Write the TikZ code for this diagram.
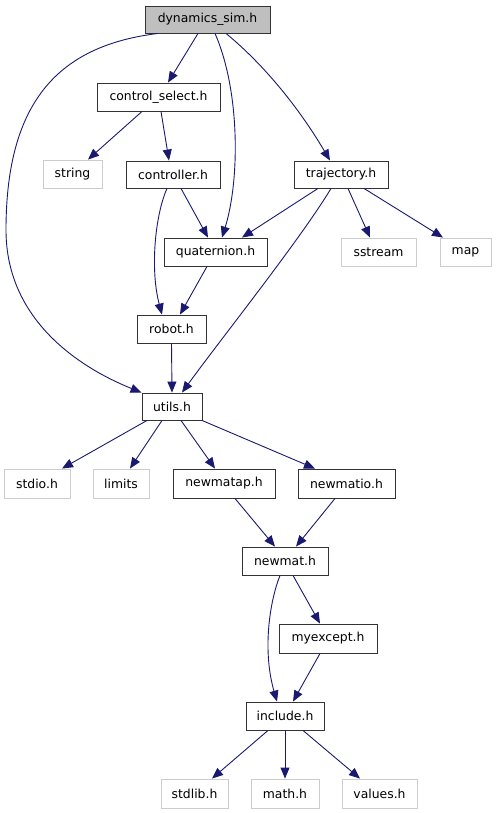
\documentclass[tikz,border=0pt]{standalone}
\usepackage{fontspec}
\setmainfont{DejaVu Sans}
\usetikzlibrary{arrows.meta}
\definecolor{edgec}{HTML}{191970}
\definecolor{lgray}{HTML}{CCCCCC}
\definecolor{topfill}{HTML}{BFBFBF}
\begin{document}
\begin{tikzpicture}[x=1pt,y=-1pt,
  box/.style={draw=black!80, line width=0.9pt, inner sep=0pt, fill=white,
    font=\fontsize{12.4}{14}\selectfont, text=black, minimum height=28pt},
  ext/.style={box, draw=lgray},
  edge/.style={draw=edgec, line width=0.9pt, -{Triangle[length=11pt,width=9pt]}}]
\useasboundingbox (0,0) rectangle (496,813);
% nodes
\node[box, fill=topfill, minimum width=125pt, minimum height=27pt] (top) at (207.5,19.5) {dynamics\_sim.h};
\node[box, minimum width=123pt] (cs) at (158.5,97) {control\_select.h};
\node[ext, minimum width=59pt] (str) at (72.5,174) {string};
\node[box, minimum width=94pt, minimum height=27pt] (ctl) at (173,174.5) {controller.h};
\node[box, minimum width=94pt, minimum height=27pt] (traj) at (341,174.5) {trajectory.h};
\node[box, minimum width=103pt] (quat) at (215.5,252) {quaternion.h};
\node[ext, minimum width=75pt] (sstr) at (378.5,252) {sstream};
\node[ext, minimum width=51pt] (map) at (465.5,252) {map};
\node[box, minimum width=69pt] (robot) at (171.5,329) {robot.h};
\node[box, minimum width=60pt, minimum height=27pt] (utils) at (172,406.5) {utils.h};
\node[ext, minimum width=66pt, minimum height=29pt] (stdio) at (37,483.5) {stdio.h};
\node[ext, minimum width=56pt, minimum height=29pt] (limits) at (121,483.5) {limits};
\node[box, minimum width=102pt, minimum height=29pt] (nmap) at (224,483.5) {newmatap.h};
\node[box, minimum width=97pt, minimum height=29pt] (nmio) at (346.5,483.5) {newmatio.h};
\node[box, minimum width=86pt] (nm) at (285,561) {newmat.h};
\node[box, minimum width=98pt, minimum height=29pt] (myex) at (328,638.5) {myexcept.h};
\node[box, minimum width=78pt] (incl) at (285,716) {include.h};
\node[ext, minimum width=67pt, minimum height=29pt] (stdlib) at (194.5,793.5) {stdlib.h};
\node[ext, minimum width=68pt, minimum height=29pt] (math) at (285,793.5) {math.h};
\node[ext, minimum width=75pt, minimum height=29pt] (values) at (379.5,793.5) {values.h};
\coordinate (bendL) at (6,230);
% edges
\draw[edge] ([xshift=-9.5pt]top.south) -- ([xshift=9.5pt]cs.north);
\draw[edge] ([xshift=7.5pt]top.south) .. controls +(25,57) and +(18,-58) .. ([xshift=6.5pt]quat.north);
\draw[edge] ([xshift=18.5pt]top.south) .. controls +(39,32) and +(-30,-51) .. ([xshift=-11pt]traj.north);
\draw[edge] ([xshift=-49.5pt]top.south) .. controls +(-98,12) and +(0,-130) .. (bendL)
   .. controls +(0,90) and +(-62,-25) .. (utils.north west);
\draw[edge] ([xshift=-16.5pt]cs.south) -- ([xshift=15.5pt]str.north);
\draw[edge] ([xshift=2.5pt]cs.south) -- ([xshift=-4pt]ctl.north);
\draw[edge] ([xshift=8pt]ctl.south) -- ([xshift=-7.5pt]quat.north);
\draw[edge] ([xshift=-6pt]ctl.south) .. controls +(-12,27) and +(-12,-45) .. ([xshift=-9.5pt]robot.north);
\draw[edge] ([xshift=-23pt]traj.south) -- ([xshift=26.5pt]quat.north);
\draw[edge] ([xshift=-10pt]traj.south) .. controls +(-30,50) and +(40,-55) .. ([xshift=10pt]utils.north);
\draw[edge] ([xshift=7pt]traj.south) -- ([xshift=-8.5pt]sstr.north);
\draw[edge] ([xshift=23pt]traj.south) -- ([xshift=-22.5pt]map.north);
\draw[edge] ([xshift=-8.5pt]quat.south) -- ([xshift=8.5pt]robot.north);
\draw[edge] (robot.south) -- (utils.north);
\draw[edge] ([xshift=-25pt]utils.south) -- ([xshift=25pt]stdio.north);
\draw[edge] ([xshift=-10pt]utils.south) -- ([xshift=9pt]limits.north);
\draw[edge] ([xshift=9pt]utils.south) -- ([xshift=-9pt]nmap.north);
\draw[edge] ([xshift=30pt]utils.south) -- ([xshift=-31.5pt]nmio.north);
\draw[edge] ([xshift=11pt]nmap.south) -- ([xshift=-10pt]nm.north);
\draw[edge] ([xshift=-11.5pt]nmio.south) -- ([xshift=11pt]nm.north);
\draw[edge] ([xshift=-5pt]nm.south) .. controls +(-10,25) and +(-15,-52) .. ([xshift=-8pt]incl.north);
\draw[edge] ([xshift=8pt]nm.south) -- ([xshift=-8pt]myex.north);
\draw[edge] ([xshift=-8pt]myex.south) -- ([xshift=8pt]incl.north);
\draw[edge] ([xshift=-17pt]incl.south) -- ([xshift=17.5pt]stdlib.north);
\draw[edge] (incl.south) -- (math.north);
\draw[edge] ([xshift=18pt]incl.south) -- ([xshift=-19.5pt]values.north);
\end{tikzpicture}
\end{document}
